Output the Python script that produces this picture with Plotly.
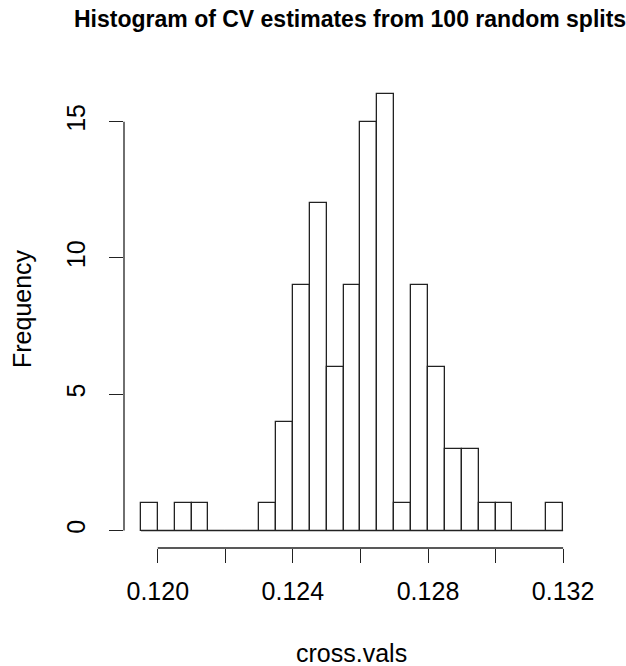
import plotly.graph_objects as go

# Data
bin_start = 0.1195
bin_width = 0.0005
counts = [1, 0, 1, 1, 0, 0, 0, 1, 4, 9, 12, 6, 9, 15, 16, 1, 9, 6, 3, 3, 1, 1, 0, 0, 1]
x_ticks = [0.120, 0.122, 0.124, 0.126, 0.128, 0.130, 0.132]
x_tick_labels = ["0.120", "", "0.124", "", "0.128", "", "0.132"]
y_ticks = [0, 5, 10, 15]
title = "Histogram of CV estimates from 100 random splits"
x_title = "cross.vals"
y_title = "Frequency"

centers = [bin_start + bin_width * (i + 0.5) for i in range(len(counts))]
edge_lo = bin_start
edge_hi = bin_start + bin_width * len(counts)

W, H = 626, 666
L, R, T, B = 124, 46, 77, 118
PW, PH = W - L - R, H - T - B
FONT = "Liberation Sans, Arial, sans-serif"
LINE = "#222222"

fig = go.Figure()
fig.add_trace(go.Bar(
    x=centers, y=counts, width=bin_width,
    marker=dict(color="white", line=dict(color=LINE, width=1.3)),
    showlegend=False, hoverinfo="x+y",
))
# baseline of zero-height bins
fig.add_trace(go.Scatter(
    x=[edge_lo, edge_hi], y=[0, 0], mode="lines",
    line=dict(color=LINE, width=1.3), showlegend=False, hoverinfo="skip",
))

shapes = [
    dict(type="line", xref="x", yref="paper", x0=x_ticks[0], x1=x_ticks[-1],
         y0=0, y1=0, line=dict(color=LINE, width=1.3)),
    dict(type="line", xref="paper", yref="y", x0=0, x1=0,
         y0=y_ticks[0], y1=y_ticks[-1], line=dict(color=LINE, width=1.3)),
]

fig.update_layout(
    width=W, height=H,
    margin=dict(l=L, r=R, t=T, b=B, pad=0),
    paper_bgcolor="white", plot_bgcolor="white",
    font=dict(family=FONT, color="#000000"),
    shapes=shapes,
    bargap=0,
    xaxis=dict(
        range=[0.1190, 0.1325], showgrid=False, zeroline=False, showline=False,
        tickmode="array", tickvals=x_ticks, ticktext=x_tick_labels,
        ticks="outside", ticklen=14, tickwidth=1.3, tickcolor=LINE,
        tickfont=dict(size=25, family=FONT, color="#000"),
        ticklabelstandoff=7,
    ),
    yaxis=dict(
        range=[-0.64, 16.64], showgrid=False, zeroline=False, showline=False,
        tickmode="array", tickvals=y_ticks, ticktext=[str(v) for v in y_ticks],
        ticks="outside", ticklen=14, tickwidth=1.3, tickcolor=LINE,
        tickangle=-90,
        tickfont=dict(size=25, family=FONT, color="#000"),
        ticklabelstandoff=14,
    ),
    annotations=[
        dict(text="<b>" + title + "</b>", xref="paper", yref="paper",
             x=(350 - L) / PW, y=1 + (T - 19) / PH,
             xanchor="center", yanchor="middle", showarrow=False,
             font=dict(size=23, family=FONT, color="#000")),
        dict(text=x_title, xref="paper", yref="paper",
             x=(351 - L) / PW, y=-(653 - (H - B)) / PH,
             xanchor="center", yanchor="middle", showarrow=False,
             font=dict(size=25, family=FONT, color="#000")),
        dict(text=y_title, xref="paper", yref="paper", textangle=-90,
             x=-(L - 22) / PW, y=(H - B - 309) / PH,
             xanchor="center", yanchor="middle", showarrow=False,
             font=dict(size=25, family=FONT, color="#000")),
    ],
)

fig.write_html("out.html")
